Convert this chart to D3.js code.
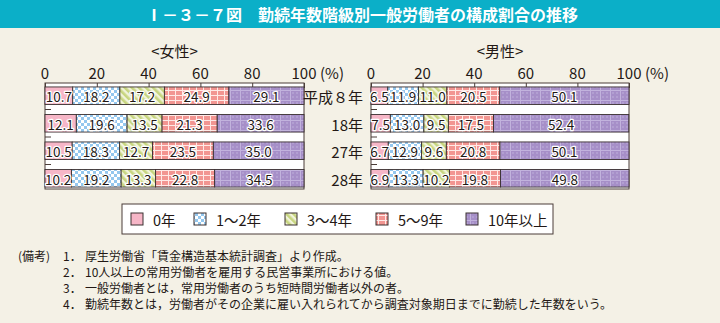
<!DOCTYPE html>
<html><head><meta charset="utf-8">
<script src="https://cdn.jsdelivr.net/npm/d3@7"></script>
<style>
body{margin:0;background:#F4F1E6}
svg{display:block}
text{font-family:"Noto Sans CJK JP","Noto Sans",sans-serif;fill:#231815}
</style>
</head><body><svg id="c" width="720" height="323"></svg>
<script>
const titleText = "Ⅰ－３－７図　勤続年数階級別一般労働者の構成割合の推移";
const years = ["平成８年", "18年", "27年", "28年"];
const categories = ["0年", "1～2年", "3～4年", "5～9年", "10年以上"];
const femaleValues = [
  [10.7, 18.2, 17.2, 24.9, 29.1],
  [12.1, 19.6, 13.5, 21.3, 33.6],
  [10.5, 18.3, 12.7, 23.5, 35.0],
  [10.2, 19.2, 13.3, 22.8, 34.5]
];
const maleValues = [
  [6.5, 11.9, 11.0, 20.5, 50.1],
  [7.5, 13.0, 9.5, 17.5, 52.4],
  [6.7, 12.9, 9.6, 20.8, 50.1],
  [6.9, 13.3, 10.2, 19.8, 49.8]
];
const tickValues = [0, 20, 40, 60, 80, 100];
const panelTitles = ["<女性>", "<男性>"];
const notes = [
  ["(備考)", "1．", "厚生労働省「賃金構造基本統計調査」より作成。"],
  ["", "2．", "10人以上の常用労働者を雇用する民営事業所における値。"],
  ["", "3．", "一般労働者とは，常用労働者のうち短時間労働者以外の者。"],
  ["", "4．", "勤続年数とは，労働者がその企業に雇い入れられてから調査対象期日までに勤続した年数をいう。"]
];

const svg = d3.select("#c");
const W = 720, H = 323;
svg.append("rect").attr("width", W).attr("height", H).attr("fill", "#F4F1E6");

// patterns
const defs = svg.append("defs");
// checker
let p = defs.append("pattern").attr("id", "pat1").attr("patternUnits", "userSpaceOnUse").attr("width", 6).attr("height", 6);
p.append("rect").attr("width", 6).attr("height", 6).attr("fill", "#ffffff");
p.append("rect").attr("width", 3).attr("height", 3).attr("fill", "#94C7EE");
p.append("rect").attr("x", 3).attr("y", 3).attr("width", 3).attr("height", 3).attr("fill", "#94C7EE");
// stripes
p = defs.append("pattern").attr("id", "pat2").attr("patternUnits", "userSpaceOnUse").attr("width", 5).attr("height", 5).attr("patternTransform", "rotate(-45)");
p.append("rect").attr("width", 5).attr("height", 5).attr("fill", "#F1F3DA");
p.append("rect").attr("width", 2.6).attr("height", 5).attr("fill", "#C7D57F");
// grid
p = defs.append("pattern").attr("id", "pat3").attr("patternUnits", "userSpaceOnUse").attr("width", 7).attr("height", 5);
p.append("rect").attr("width", 7).attr("height", 5).attr("fill", "#F29591");
p.append("rect").attr("width", 7).attr("height", 1).attr("fill", "#FFE9E6");
p.append("rect").attr("width", 1).attr("height", 5).attr("fill", "#FFE9E6");
// purple dots
p = defs.append("pattern").attr("id", "pat4").attr("patternUnits", "userSpaceOnUse").attr("width", 10).attr("height", 10);
p.append("rect").attr("width", 10).attr("height", 10).attr("fill", "#A68FC8");
p.append("rect").attr("width", 10).attr("height", 1).attr("fill", "#C2B3DD");
p.append("rect").attr("width", 1).attr("height", 10).attr("fill", "#C2B3DD");
[[3,3],[7,3],[3,7],[7,7]].forEach(([cx,cy]) => p.append("circle").attr("cx", cx).attr("cy", cy).attr("r", 0.7).attr("fill", "#C9BCE2"));

const fills = ["#F6B6C7", "url(#pat1)", "url(#pat2)", "url(#pat3)", "url(#pat4)"];
const fillScale = d3.scaleOrdinal().domain(categories).range(fills);

// title bar
svg.append("rect").attr("x", 0).attr("y", 0).attr("width", W).attr("height", 28).attr("fill", "#0BAFC8");
svg.append("text").attr("x", 362).attr("y", 20.5).attr("text-anchor", "middle")
  .style("fill", "#ffffff").attr("font-size", 16).attr("font-weight", "bold").text(titleText);

const y = d3.scaleBand().domain(years).range([82, 192]).paddingInner(0.36).paddingOuter(0.18);
const frameTop = 83, frameBottom = 189;

function panel(values, x0, x1, title) {
  const x = d3.scaleLinear().domain([0, 100]).range([x0, x1]);
  const g = svg.append("g");
  g.append("text").attr("x", (x0 + x1) / 2).attr("y", 57).attr("text-anchor", "middle").attr("font-size", 15).text(title);
  g.append("rect").attr("x", x0).attr("y", frameTop).attr("width", x1 - x0).attr("height", frameBottom - frameTop)
    .attr("fill", "#ffffff").attr("stroke", "#4a3d38").attr("stroke-width", 1);
  // axis ticks (inward)
  const ax = d3.axisTop(x).tickValues(tickValues).tickSize(-5).tickFormat("");
  const axg = g.append("g").attr("transform", `translate(0,${frameTop})`).call(ax);
  axg.select(".domain").remove();
  axg.selectAll("line").attr("stroke", "#4a3d38");
  tickValues.forEach(t => {
    g.append("text").attr("x", x(t)).attr("y", 79).attr("text-anchor", "middle").attr("font-size", 15).text(t);
  });
  g.append("text").attr("x", x(100) + 16).attr("y", 79).attr("font-size", 15).text("(%)");
  // small category separator ticks on left
  for (let i = 1; i < years.length; i++) {
    const yy = (y(years[i - 1]) + y.bandwidth() + y(years[i])) / 2;
    g.append("line").attr("x1", x0).attr("x2", x0 + 6).attr("y1", yy).attr("y2", yy).attr("stroke", "#4a3d38");
  }
  years.forEach((yr, i) => {
    let cum = 0;
    const segs = values[i].map((v, j) => { const s = {cat: categories[j], v, a: cum, b: Math.min(100, cum + v)}; cum += v; return s; });
    const row = g.append("g");
    row.selectAll("rect").data(segs).join("rect")
      .attr("x", d => x(d.a)).attr("y", y(yr))
      .attr("width", d => x(d.b) - x(d.a)).attr("height", y.bandwidth())
      .attr("fill", d => fillScale(d.cat)).attr("stroke", "#3a3030").attr("stroke-width", 0.9);
    row.selectAll("text").data(segs).join("text")
      .attr("x", d => (x(d.a) + x(d.b)) / 2).attr("y", y(yr) + y.bandwidth() / 2 + 0.5)
      .attr("text-anchor", "middle").attr("dominant-baseline", "central")
      .attr("font-size", 13.5)
      .style("stroke", "#ffffff").style("stroke-width", 2.5).style("paint-order", "stroke").style("stroke-linejoin", "round")
      .text(d => d.v.toFixed(1));
  });
}
panel(femaleValues, 45, 304, panelTitles[0]);
panel(maleValues, 371, 629, panelTitles[1]);

// year labels
years.forEach(yr => {
  svg.append("text").attr("x", 363).attr("y", y(yr) + y.bandwidth() / 2 + 1)
    .attr("text-anchor", "end").attr("dominant-baseline", "central").attr("font-size", 15).text(yr);
});

// legend
const lg = svg.append("g");
lg.append("rect").attr("x", 122).attr("y", 204).attr("width", 431).attr("height", 30)
  .attr("fill", "#ffffff").attr("stroke", "#4a3d38").attr("stroke-width", 1);
const legX = [131, 194, 285, 376, 466];
categories.forEach((c, i) => {
  lg.append("rect").attr("x", legX[i]).attr("y", 213).attr("width", 12).attr("height", 12)
    .attr("fill", fillScale(c)).attr("stroke", "#3a3030").attr("stroke-width", 1);
  lg.append("text").attr("x", legX[i] + 22).attr("y", 219.5).attr("dominant-baseline", "central")
    .attr("font-size", 14.5).text(c);
});

// notes
const noteY = [255, 271, 287, 303];
notes.forEach((n, i) => {
  if (n[0]) svg.append("text").attr("x", 18).attr("y", noteY[i]).attr("dominant-baseline", "central").attr("font-size", 12).text(n[0]);
  svg.append("text").attr("x", 63).attr("y", noteY[i]).attr("dominant-baseline", "central").attr("font-size", 12).text(n[1]);
  svg.append("text").attr("x", 85).attr("y", noteY[i]).attr("dominant-baseline", "central").attr("font-size", 12).text(n[2]);
});
</script>
</body></html>
